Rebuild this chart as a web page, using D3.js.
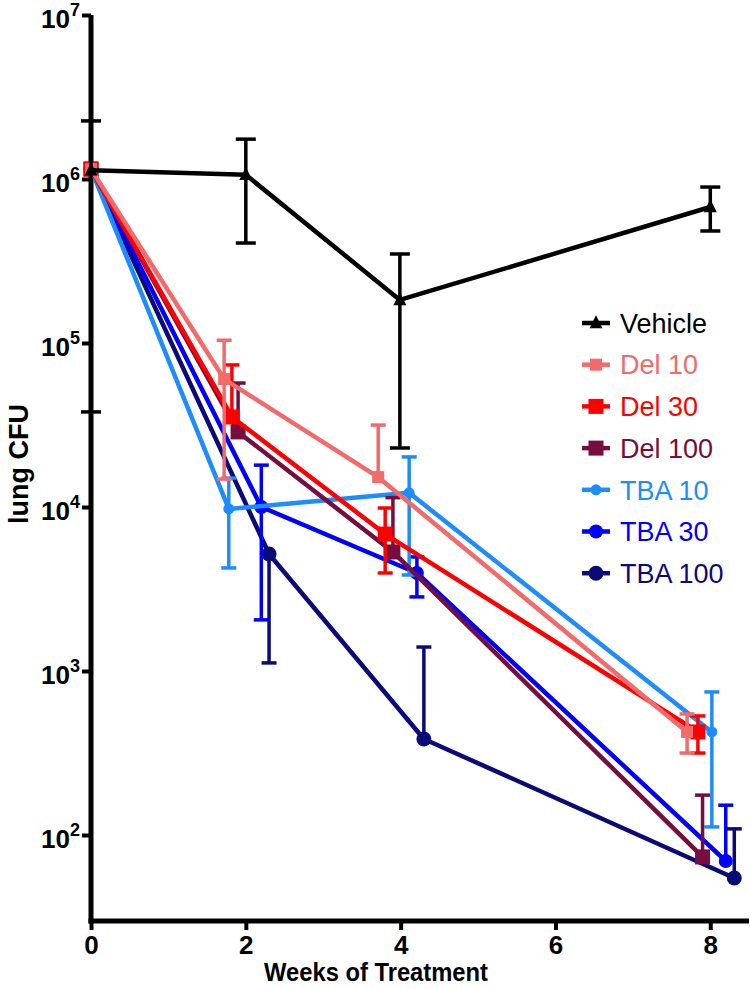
<!DOCTYPE html>
<html>
<head>
<meta charset="utf-8">
<script src="https://cdn.jsdelivr.net/npm/d3@7"></script>
<style>
  html, body { margin: 0; padding: 0; background: #fff; }
  svg { display: block; }
</style>
</head>
<body>
<div id="chart"></div>
<script>
// ---- data ----
const seriesNames = ["Vehicle", "Del 10", "Del 30", "Del 100", "TBA 10", "TBA 30", "TBA 100"];
const seriesColors = ["#000000", "#F26A6A", "#FF0000", "#760D3E", "#1C8CFF", "#0000FF", "#0A0A78"];
const seriesShapes = ["triangle", "square", "square", "square", "circle", "circle", "circle"];
const seriesMarkerSizes = [13, 12, 15, 15, 11, 14, 15];

const vehicleX   = [0, 2, 3.99, 8];
const vehicleY   = [1.13e6, 1.06e6, 1.83e5, 6.75e5];
const vehicleHi  = [2.26e6, 1.75e6, 3.49e5, 8.93e5];
const vehicleLo  = [3.8e4, 4.07e5, 2.29e4, 4.82e5];

const del10X  = [0, 1.72, 3.71, 7.7];
const del10Y  = [1.15e6, 6.03e4, 1.52e4, 425];
const del10Hi = [null, 1.04e5, 3.16e4, 547];
const del10Lo = [null, 1.48e4, null, 316];

const del30X  = [0, 1.82, 3.8, 7.84];
const del30Y  = [1.15e6, 3.54e4, 6.84e3, 425];
const del30Hi = [null, 7.35e4, 9.86e3, 532];
const del30Lo = [null, null, 3.96e3, 316];

const del100X  = [0, 1.9, 3.9, 7.9];
const del100Y  = [1.15e6, 2.87e4, 5.32e3, 73.5];
const del100Hi = [null, 5.7e4, 1.14e4, 175];
const del100Lo = [null, null, null, null];

const tba10X  = [0, 1.78, 4.11, 8.02];
const tba10Y  = [1.15e6, 9.73e3, 1.22e4, 425];
const tba10Hi = [null, 1.5e4, 2.02e4, 745];
const tba10Lo = [null, 4.25e3, 3.85e3, 112];

const tba30X  = [0, 2.2, 4.21, 8.2];
const tba30Y  = [1.15e6, 1.0e4, 3.96e3, 69.4];
const tba30Hi = [null, 1.8e4, 4.96e3, 152];
const tba30Lo = [null, 2.05e3, 2.83e3, null];

const tba100X  = [0, 2.3, 4.3, 8.31];
const tba100Y  = [1.15e6, 5.17e3, 385, 54.7];
const tba100Hi = [null, null, 1.4e3, 109];
const tba100Lo = [null, 1.12e3, null, null];

const xTickValues = [0, 2, 4, 6, 8];
const yTickExponents = [2, 3, 4, 5, 6, 7];
const xTitle = "Weeks of Treatment";
const yTitle = "lung CFU";

// ---- assemble ----
const allX  = [vehicleX, del10X, del30X, del100X, tba10X, tba30X, tba100X];
const allY  = [vehicleY, del10Y, del30Y, del100Y, tba10Y, tba30Y, tba100Y];
const allHi = [vehicleHi, del10Hi, del30Hi, del100Hi, tba10Hi, tba30Hi, tba100Hi];
const allLo = [vehicleLo, del10Lo, del30Lo, del100Lo, tba10Lo, tba30Lo, tba100Lo];

const series = seriesNames.map((name, i) => ({
  name, color: seriesColors[i], shape: seriesShapes[i], size: seriesMarkerSizes[i],
  points: allX[i].map((x, j) => ({ x, y: allY[i][j], hi: allHi[i][j], lo: allLo[i][j] }))
}));

const W = 750, H = 989;
const svg = d3.select("#chart").append("svg").attr("width", W).attr("height", H);

const x = d3.scaleLinear().domain([0, 8.5]).range([91, 749]);
const yMin = Math.pow(10, 2 - 86 / 164);
const y = d3.scaleLog().domain([yMin, 1e7]).range([921, 15]);

const FONT = "'Liberation Sans', Arial, Helvetica, sans-serif";

// ---- axes ----
const xAxis = svg.append("g").attr("transform", `translate(0,${y(yMin)})`)
  .call(d3.axisBottom(x).tickValues(xTickValues).tickSize(9).tickSizeOuter(0).tickPadding(4));
const yAxis = svg.append("g").attr("transform", `translate(${x(0)},0)`)
  .call(d3.axisLeft(y).tickValues(yTickExponents.map(e => Math.pow(10, e))).tickSize(9).tickSizeOuter(0).tickPadding(2).tickFormat(""));

[xAxis, yAxis].forEach(g => {
  g.select(".domain").attr("stroke", "#000").attr("stroke-width", 5);
  g.selectAll(".tick line").attr("stroke", "#000").attr("stroke-width", 4);
});
xAxis.select(".domain").attr("d", `M${x(0) - 2.5},0H${x(8.5)}`);
yAxis.select(".domain").attr("d", `M0,${y(yMin) + 2.5}V${y(1e7)}`);

xAxis.selectAll(".tick text")
  .attr("font-family", FONT).attr("font-weight", "bold").attr("font-size", 26)
  .attr("fill", "#000").attr("dy", "0.76em");

yAxis.selectAll(".tick").each(function(d) {
  const e = Math.round(Math.log10(d));
  const t = d3.select(this).select("text");
  t.text(null)
    .attr("font-family", FONT).attr("font-weight", "bold").attr("fill", "#000")
    .attr("x", -11).attr("dy", 0).attr("text-anchor", "end");
  t.append("tspan").attr("font-size", 26).attr("dy", 12).text("10");
  t.append("tspan").attr("font-size", 18).attr("dy", -12).text(String(e));
});

svg.append("text")
  .attr("x", 376).attr("y", 981)
  .attr("text-anchor", "middle")
  .attr("font-family", FONT).attr("font-weight", "bold").attr("font-size", 26)
  .attr("textLength", 224).attr("lengthAdjust", "spacingAndGlyphs")
  .text(xTitle);

svg.append("text")
  .attr("transform", "translate(28,464) rotate(-90)")
  .attr("text-anchor", "middle")
  .attr("font-family", FONT).attr("font-weight", "bold").attr("font-size", 27)
  .text(yTitle);

// ---- markers ----
function drawMarker(g, shape, size, color, cx, cy) {
  if (shape === "triangle") {
    const s = size;
    g.append("path")
      .attr("d", `M${cx},${cy - s * 0.6}L${cx + s / 2},${cy + s * 0.4}L${cx - s / 2},${cy + s * 0.4}Z`)
      .attr("fill", color);
  } else if (shape === "square") {
    g.append("rect").attr("x", cx - size / 2).attr("y", cy - size / 2)
      .attr("width", size).attr("height", size).attr("fill", color);
  } else {
    g.append("circle").attr("cx", cx).attr("cy", cy).attr("r", size / 2).attr("fill", color);
  }
}

const line = d3.line().x(d => x(d.x)).y(d => y(d.y));

const plot = svg.append("g");
series.slice().reverse().forEach(s => {
  const g = plot.append("g");
  const capW = s.name === "Vehicle" ? 20 : 15;
  s.points.forEach(p => {
    [p.hi, p.lo].forEach(v => {
      if (v == null) return;
      g.append("line")
        .attr("x1", x(p.x)).attr("x2", x(p.x))
        .attr("y1", y(p.y)).attr("y2", y(v))
        .attr("stroke", s.color).attr("stroke-width", 3.5);
      g.append("line")
        .attr("x1", x(p.x) - capW / 2).attr("x2", x(p.x) + capW / 2)
        .attr("y1", y(v)).attr("y2", y(v))
        .attr("stroke", s.color).attr("stroke-width", 3.5);
    });
  });
  g.append("path").datum(s.points)
    .attr("d", line)
    .attr("fill", "none").attr("stroke", s.color).attr("stroke-width", 4.5)
    .attr("stroke-linejoin", "round");
  s.points.forEach(p => drawMarker(g, s.shape, s.size, s.color, x(p.x), y(p.y)));
});

// ---- legend ----
const legend = svg.append("g");
const legendY0 = 323, legendStep = 41.7;
series.forEach((s, i) => {
  const ly = legendY0 + i * legendStep;
  legend.append("line").attr("x1", 582).attr("x2", 610).attr("y1", ly).attr("y2", ly)
    .attr("stroke", s.color).attr("stroke-width", 4.5);
  drawMarker(legend, s.shape, s.size, s.color, 596, ly);
  legend.append("text")
    .attr("x", 620).attr("y", ly).attr("dy", "0.36em")
    .attr("font-family", FONT).attr("font-size", 27).attr("fill", s.color)
    .text(s.name);
});
</script>
</body>
</html>
